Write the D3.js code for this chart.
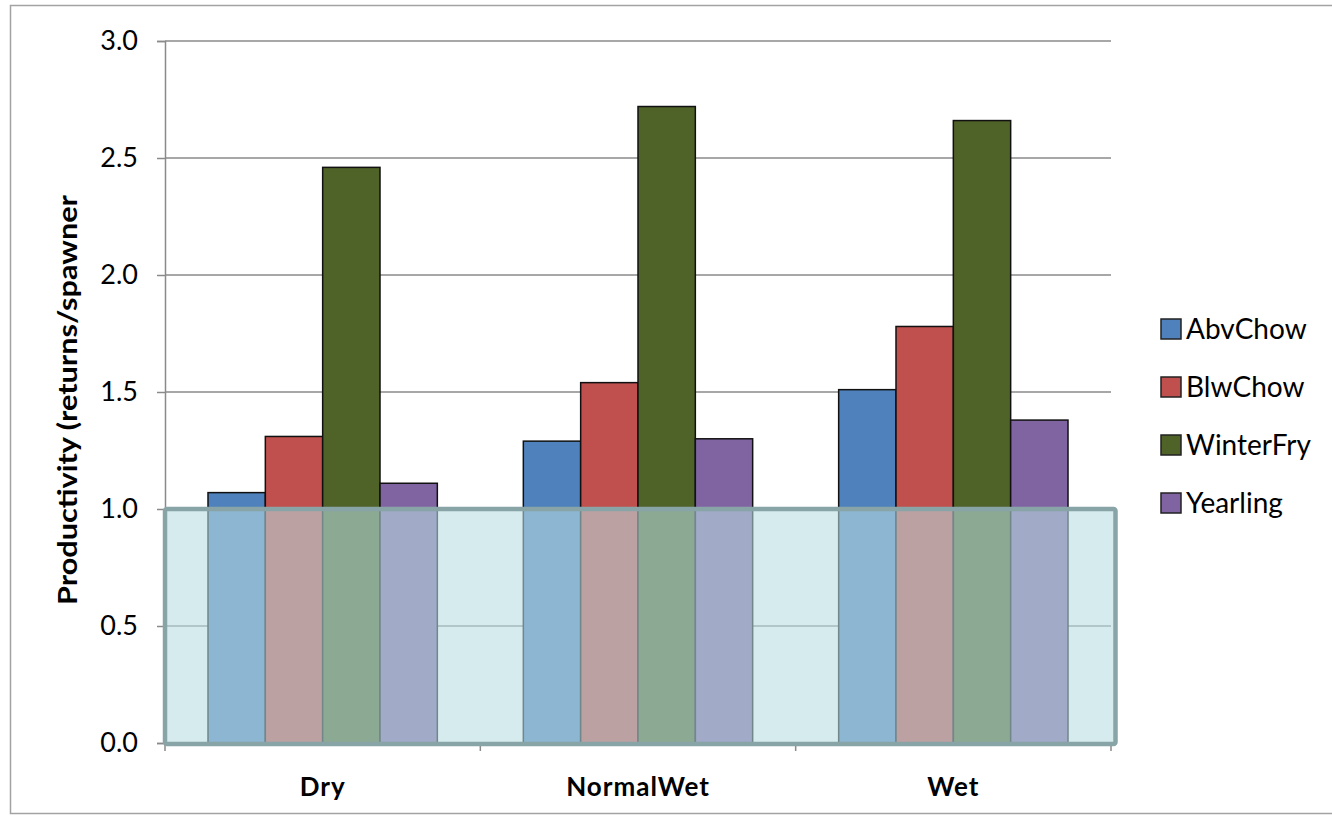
<!DOCTYPE html>
<html>
<head>
<meta charset="utf-8">
<script src="https://cdn.jsdelivr.net/npm/d3@7"></script>
<style>
  html, body { margin: 0; padding: 0; background: #fff; }
  svg { display: block; }
  text { font-family: Lato, "Open Sans", sans-serif; fill: #000; }
</style>
</head>
<body>
<svg id="chart" width="1332" height="821"></svg>
<script>
// Flow-year types on the x axis
const categories = ["Dry", "NormalWet", "Wet"];
// Rearing strategies (one bar each per category)
const seriesNames = ["AbvChow", "BlwChow", "WinterFry", "Yearling"];
const seriesColors = ["#4f81bd", "#c0504d", "#4f6228", "#8064a2"];
// Productivity (returns per spawner), one array per series, ordered as categories
const abvChow   = [1.07, 1.29, 1.51];
const blwChow   = [1.31, 1.54, 1.78];
const winterFry = [2.46, 2.72, 2.66];
const yearling  = [1.11, 1.30, 1.38];
const seriesValues = [abvChow, blwChow, winterFry, yearling];
// Y axis ticks and the replacement threshold shaded below
const yTicks = [0, 0.5, 1.0, 1.5, 2.0, 2.5, 3.0];
const replacementLevel = 1.0;

const svg = d3.select("#chart");
const plot = { left: 165, right: 1111, top: 41, bottom: 743 };

// Outer chart frame
svg.append("rect")
  .attr("x", 10.5).attr("y", 5.5)
  .attr("width", 1340).attr("height", 808)
  .attr("fill", "none").attr("stroke", "#a3a3a3").attr("stroke-width", 1.5);

const x0 = d3.scaleBand().domain(categories).range([plot.left, plot.right]).padding(0);
const x1 = d3.scaleBand().domain(seriesNames).range([0, x0.bandwidth()])
  .paddingInner(0).paddingOuter(0.75);
const y = d3.scaleLinear().domain([0, 3]).range([plot.bottom, plot.top]);

// Horizontal gridlines
svg.append("g").selectAll("line")
  .data(yTicks.filter(d => d > 0))
  .join("line")
  .attr("x1", plot.left).attr("x2", plot.right)
  .attr("y1", d => y(d)).attr("y2", d => y(d))
  .attr("stroke", "#8a8a8a").attr("stroke-width", 1.5);

// Y axis
const yAxis = svg.append("g")
  .attr("transform", `translate(${plot.left},0)`)
  .call(d3.axisLeft(y).tickValues(yTicks).tickFormat(d3.format(".1f"))
    .tickSize(8).tickPadding(19));
yAxis.select(".domain").attr("stroke", "#8a8a8a").attr("stroke-width", 1.5);
yAxis.selectAll(".tick line").attr("stroke", "#8a8a8a").attr("stroke-width", 1.5);
yAxis.selectAll(".tick text")
  .style("font-family", "Lato, sans-serif").style("font-size", "27px").attr("fill", "#000");

// X axis (ticks at category boundaries)
const xAxisG = svg.append("g").attr("transform", `translate(0,${plot.bottom})`);
xAxisG.append("line")
  .attr("x1", plot.left).attr("x2", plot.right)
  .attr("stroke", "#8a8a8a").attr("stroke-width", 1.5);
const boundaries = categories.map(c => x0(c)).concat([x0(categories[categories.length - 1]) + x0.bandwidth()]);
xAxisG.selectAll("line.bound")
  .data(boundaries)
  .join("line").attr("class", "bound")
  .attr("x1", d => d).attr("x2", d => d)
  .attr("y1", 0).attr("y2", 8)
  .attr("stroke", "#8a8a8a").attr("stroke-width", 1.5);
xAxisG.selectAll("text.cat")
  .data(categories)
  .join("text").attr("class", "cat")
  .attr("x", d => x0(d) + x0.bandwidth() / 2)
  .attr("y", 53)
  .attr("text-anchor", "middle")
  .style("font-size", "26px").style("font-weight", "bold")
  .style("letter-spacing", "1px")
  .text(d => d);

// Bars
const groups = svg.append("g").selectAll("g")
  .data(categories)
  .join("g")
  .attr("transform", d => `translate(${x0(d)},0)`);
groups.selectAll("rect")
  .data((c, ci) => seriesNames.map((s, si) => ({ s, si, v: seriesValues[si][ci] })))
  .join("rect")
  .attr("x", d => x1(d.s))
  .attr("width", x1.bandwidth())
  .attr("y", d => y(d.v))
  .attr("height", d => y(0) - y(d.v))
  .attr("fill", d => seriesColors[d.si])
  .attr("stroke", "#111").attr("stroke-width", 1.5);

// Translucent band below replacement level
svg.append("rect")
  .attr("x", plot.left)
  .attr("y", y(replacementLevel))
  .attr("width", plot.right - plot.left + 4.5)
  .attr("height", y(0) - y(replacementLevel) + 1)
  .attr("rx", 2)
  .attr("fill", "rgb(184,221,226)").attr("fill-opacity", 0.58)
  .attr("stroke", "#89a4a7").attr("stroke-width", 4.5);

// Y axis title
svg.append("text")
  .attr("transform", "translate(77,400) rotate(-90)")
  .attr("text-anchor", "middle")
  .attr("textLength", 410)
  .attr("lengthAdjust", "spacingAndGlyphs")
  .style("font-size", "26px").style("font-weight", "bold")
  .text("Productivity (returns/spawner");

// Legend
const legend = svg.append("g").selectAll("g")
  .data(seriesNames)
  .join("g")
  .attr("transform", (d, i) => `translate(1161,${329 + i * 58})`);
legend.append("rect")
  .attr("x", 0).attr("y", -10).attr("width", 20).attr("height", 20)
  .attr("fill", (d, i) => seriesColors[i])
  .attr("stroke", "#222").attr("stroke-width", 1.5);
legend.append("text")
  .attr("x", 25).attr("y", 10)
  .style("font-size", "28px")
  .text(d => d);
</script>
</body>
</html>
